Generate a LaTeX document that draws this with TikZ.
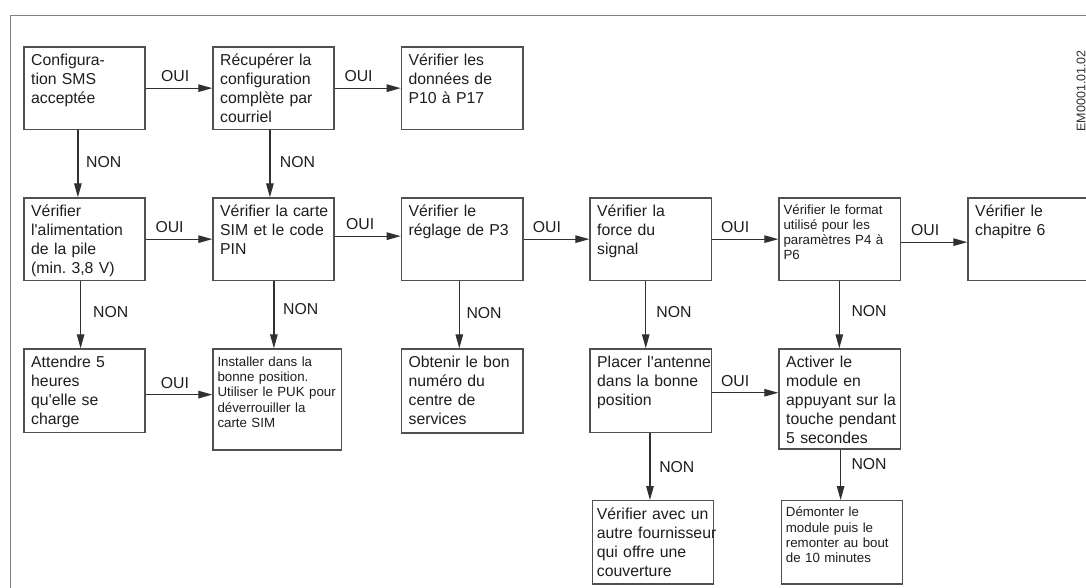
\documentclass[tikz,border=0pt]{standalone}
\usepackage{fontspec}
\newfontfamily\lib{Liberation Sans}
\usetikzlibrary{arrows.meta,calc}
\definecolor{boxc}{HTML}{505050}
\definecolor{arrc}{HTML}{303030}
\definecolor{framec}{HTML}{808080}
\definecolor{txtc}{HTML}{1E1E1E}
\newcommand{\mainf}{\lib\frenchspacing\fontsize{15.8}{19}\selectfont}
\newcommand{\smallf}{\lib\frenchspacing\fontsize{13.3}{15.3}\selectfont}
\frenchspacing
\begin{document}
\begin{tikzpicture}[x=1pt,y=-1pt,
  box/.style={draw=boxc, line width=1.2pt, anchor=north west, inner sep=0pt,
    minimum width=121pt, minimum height=82.5pt},
  maintxt/.style={anchor=north west, inner sep=0pt, align=left, text width=150pt,
    text height=11.5pt, font=\mainf, text=txtc, xshift=7.7pt, yshift=-7.5pt},
  smalltxt/.style={anchor=north west, inner sep=0pt, align=left, text width=150pt,
    text height=9.5pt, font=\smallf, text=txtc, xshift=5pt, yshift=-7pt},
  arr/.style={draw=arrc, line width=1.2pt, -{Triangle[length=14pt,width=7.5pt]}},
  oui/.style={pos=0, anchor=south west, inner sep=0pt, font=\mainf, text=txtc, yshift=5.8pt},
  non/.style={midway, anchor=west, inner sep=0pt, font=\mainf, text=txtc},
]
\useasboundingbox (0,0) rectangle (1086,587);
\fill[white] (0,0) rectangle (1086,587);
% frame
\draw[framec, line width=1.3pt] (1090,15.5) -- (10.5,15.5) -- (10.5,592);

% row 1
\node[box] (A) at (23.3,46.3) {};
\node[maintxt] (At) at (A.north west) {Configura-\\tion SMS\\acceptée};
\node[box] (B) at (212.3,46.3) {};
\node[maintxt] (Bt) at (B.north west) {Récupérer la\\configuration\\complète par\\courriel};
\node[box, minimum width=121.6pt] (C) at (400.7,46.3) {};
\node[maintxt] (Ct) at (C.north west) {Vérifier les\\données de\\P10 à P17};

% row 2
\node[box] (D) at (23.3,197.3) {};
\node[maintxt] (Dt) at (D.north west) {Vérifier\\l'alimentation\\de la pile\\(min. 3,8 V)};
\node[box] (E) at (212.3,197.3) {};
\node[maintxt] (Et) at (E.north west) {Vérifier la carte\\SIM et le code\\PIN};
\node[box, minimum width=121.6pt] (F) at (400.7,197.3) {};
\node[maintxt] (Ft) at (F.north west) {Vérifier le\\réglage de P3};
\node[box, minimum width=121.7pt] (G) at (589.3,197.3) {};
\node[maintxt] (Gt) at (G.north west) {Vérifier la\\force du\\signal};
\node[box, minimum width=121.4pt] (H) at (778.3,197.3) {};
\node[smalltxt] (Ht) at (H.north west) {Vérifier le format\\utilisé pour les\\paramètres P4 à\\P6};
\node[box] (I) at (967.3,197.3) {};
\node[maintxt] (It) at (I.north west) {Vérifier le\\chapitre 6};

% row 3
\node[box, minimum height=83.4pt] (J) at (23.3,348.3) {};
\node[maintxt] (Jt) at (J.north west) {Attendre 5\\heures\\qu'elle se\\charge};
\node[box, minimum width=128.4pt, minimum height=101pt] (K) at (212.3,348.3) {};
\node[smalltxt, yshift=-1.2pt] (Kt) at (K.north west) {Installer dans la\\bonne position.\\Utiliser le PUK pour\\déverrouiller la\\carte SIM};
\node[box, minimum width=121.6pt, minimum height=84pt] (L) at (400.7,348.3) {};
\node[maintxt] (Lt) at (L.north west) {Obtenir le bon\\numéro du\\centre de\\services};
\node[box, minimum width=121.7pt, minimum height=83.7pt] (M) at (589.3,348.3) {};
\node[maintxt] (Mt) at (M.north west) {Placer l'antenne\\dans la bonne\\position};
\node[box, minimum width=121.4pt, minimum height=100pt] (N) at (778.3,348.3) {};
\node[maintxt] (Nt) at (N.north west) {Activer le\\module en\\appuyant sur la\\touche pendant\\5 secondes};

% row 4
\node[box, minimum width=120.7pt, minimum height=83.3pt] (O) at (592,500) {};
\node[maintxt, xshift=-3pt] (Ot) at (O.north west) {Vérifier avec un\\autre fournisseur\\qui offre une\\couverture};
\node[box, minimum height=83.3pt] (P) at (780.7,500) {};
\node[smalltxt] (Pt) at (P.north west) {Démonter le\\module puis le\\remonter au bout\\de 10 minutes};

% side reference
\node[font=\lib\fontsize{12.5}{14}\selectfont, text=arrc, rotate=90, inner sep=0pt] (ref) at (1081,90.8) {EM0001.01.02};

% horizontal connectors (OUI)
\draw[arr] (A.east) -- node[oui, xshift=15pt]{OUI} (B.west);
\draw[arr] (B.east) -- node[oui, xshift=9.4pt]{OUI} (C.west);
\draw[arr] (D.east) -- node[oui, xshift=9.4pt]{OUI} (E.west);
\coordinate (ef) at ($(E.east)+(0,-3)$);
\draw[arr] (ef) -- node[oui, xshift=11pt]{OUI} (ef -| F.west);
\draw[arr] (F.east) -- node[oui, xshift=8.7pt]{OUI} (G.west);
\draw[arr] (G.east) -- node[oui, xshift=8.3pt]{OUI} (H.west);
\coordinate (hi) at ($(H.east)+(0,3)$);
\draw[arr] (hi) -- node[oui, xshift=9.6pt]{OUI} (hi -| I.west);
\coordinate (jk) at ($(J.east)+(0,4)$);
\draw[arr] (jk) -- node[oui, xshift=14.7pt]{OUI} (jk -| K.west);
\coordinate (mn) at ($(M.east)+(0,2)$);
\draw[arr] (mn) -- node[oui, xshift=8.3pt]{OUI} (mn -| N.west);

% vertical connectors (NON)
\coordinate (ad) at ($(A.south)+(-6.5,0)$);
\draw[arr] (ad) -- node[non, xshift=7.7pt, yshift=2pt]{NON} (ad |- D.north);
\coordinate (be) at ($(B.south)+(-3.5,0)$);
\draw[arr] (be) -- node[non, xshift=9.4pt, yshift=2pt]{NON} (be |- E.north);
\coordinate (dj) at ($(D.south)+(-3.8,0)$);
\draw[arr] (dj) -- node[non, xshift=12pt, yshift=2.5pt]{NON} (dj |- J.north);
\coordinate (ek) at ($(E.south)+(0.5,0)$);
\draw[arr] (ek) -- node[non, xshift=8.7pt, yshift=5.7pt]{NON} (ek |- K.north);
\coordinate (fl) at ($(F.south)+(-2.8,0)$);
\draw[arr] (fl) -- node[non, xshift=6.6pt, yshift=1.3pt]{NON} (fl |- L.north);
\coordinate (gm) at ($(G.south)+(-5,0)$);
\draw[arr] (gm) -- node[non, xshift=10pt, yshift=3pt]{NON} (gm |- M.north);
\coordinate (hn) at ($(H.south)+(-0.3,0)$);
\draw[arr] (hn) -- node[non, xshift=11.6pt, yshift=4pt]{NON} (hn |- N.north);
\coordinate (mo) at ($(M.south)+(-0.8,0)$);
\draw[arr] (mo) -- node[non, xshift=8.7pt]{NON} (mo |- O.north);
\coordinate (np) at ($(N.south)+(1,0)$);
\draw[arr] (np) -- node[non, xshift=10.3pt, yshift=11pt]{NON} (np |- P.north);
\end{tikzpicture}
\end{document}
